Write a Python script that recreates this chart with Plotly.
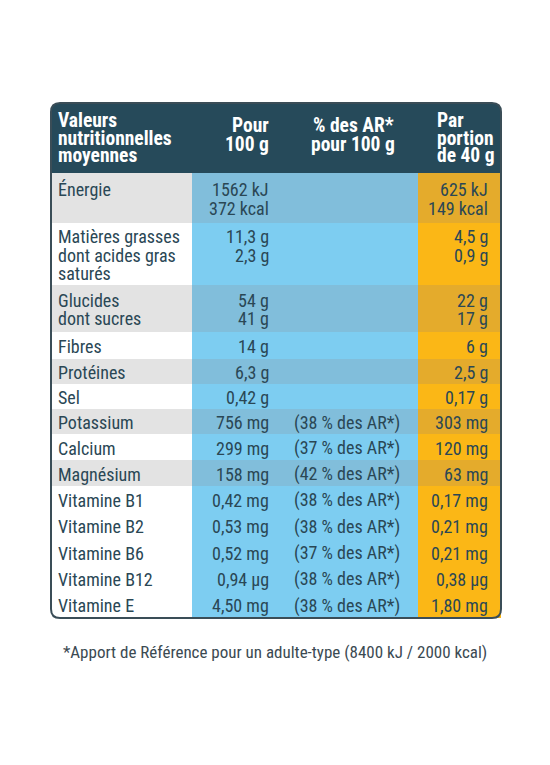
import numpy as np
import plotly.graph_objects as go

# table content
nutrients = ["Énergie", "Matières grasses\ndont acides gras\nsaturés", "Glucides\ndont sucres",
             "Fibres", "Protéines", "Sel", "Potassium", "Calcium", "Magnésium",
             "Vitamine B1", "Vitamine B2", "Vitamine B6", "Vitamine B12", "Vitamine E"]
per_100g = ["1562 kJ\n372 kcal", "11,3 g\n2,3 g", "54 g\n41 g", "14 g", "6,3 g", "0,42 g",
            "756 mg", "299 mg", "158 mg", "0,42 mg", "0,53 mg", "0,52 mg", "0,94 µg", "4,50 mg"]
ar_pct = [None, None, None, None, None, None, 38, 37, 42, 38, 38, 37, 38, 38]
per_portion = ["625 kJ\n149 kcal", "4,5 g\n0,9 g", "22 g\n17 g", "6 g", "2,5 g", "0,17 g",
               "303 mg", "120 mg", "63 mg", "0,17 mg", "0,21 mg", "0,21 mg", "0,38 µg", "1,80 mg"]
shaded = [True, False, True, False, True, False, True, False, True,
          False, False, False, False, False]

headers = ["Valeurs\nnutritionnelles\nmoyennes", "Pour\n100 g", "% des AR*\npour 100 g", "Par\nportion\nde 40 g"]
footnote = "*Apport de Référence pour un adulte-type (8400 kJ / 2000 kcal)"

# layout (pixel units, y grows downward); the page body adds an 8px offset
W, H = 550, 765
OFF = 8
LEFT, RIGHT = 51, 501
TOP, HEAD_BOTTOM = 103, 173
COL_EDGES = [LEFT, 192, 418, RIGHT]
row_heights = [50, 62, 47, 27, 25, 25, 25, 26, 26, 26.4, 26.4, 26.4, 26.4, 26.4]
LINE = 18.8
FONT = "Roboto Condensed, Liberation Sans Narrow, DejaVu Sans Condensed, sans-serif"
DARK = "#264a5a"
TEXT = "#2a4755"

row_tops = HEAD_BOTTOM + np.concatenate([[0], np.cumsum(row_heights)[:-1]])
row_mid = row_tops + np.array(row_heights) / 2
BOTTOM = HEAD_BOTTOM + sum(row_heights)

fig = go.Figure()

col_colors = [
    ["#e3e3e3" if s else "#ffffff" for s in shaded],
    ["#81bedb" if s else "#7dcdf1" for s in shaded],
    ["#e4ab2c" if s else "#fbb716" for s in shaded],
]
for c in range(3):
    fig.add_trace(go.Bar(
        orientation="h",
        y=row_mid,
        x=[COL_EDGES[c + 1] - COL_EDGES[c]] * len(nutrients),
        base=COL_EDGES[c],
        width=row_heights,
        marker=dict(color=col_colors[c], line=dict(width=0)),
        hoverinfo="skip",
        showlegend=False,
    ))


def rounded(x0, y0, x1, y1, r, top=True, bottom=True):
    rt = r if top else 0
    rb = r if bottom else 0
    return (f"M {x0 + rt},{y0} L {x1 - rt},{y0} Q {x1},{y0} {x1},{y0 + rt} "
            f"L {x1},{y1 - rb} Q {x1},{y1} {x1 - rb},{y1} L {x0 + rb},{y1} "
            f"Q {x0},{y1} {x0},{y1 - rb} L {x0},{y0 + rt} Q {x0},{y0} {x0 + rt},{y0} Z")


fig.add_shape(type="path", path=rounded(LEFT, TOP, RIGHT, HEAD_BOTTOM, 9, bottom=False),
              xref="x", yref="y", fillcolor=DARK, line=dict(width=0), layer="above")
fig.add_shape(type="path", path=rounded(LEFT, TOP, RIGHT, BOTTOM, 9),
              xref="x", yref="y", line=dict(color="#3a4d57", width=2), layer="above")


def add_lines(text, x, y_first, anchor, size=18, color=TEXT, bold=False, pitch=LINE):
    # lines stacked downward starting at y_first
    for i, ln in enumerate(text.split("\n")):
        fig.add_annotation(x=x, y=y_first + i * pitch, text=ln, xref="x", yref="y",
                           xanchor=anchor, yanchor="middle", showarrow=False, borderpad=0,
                           font=dict(family=FONT, size=size, color=color,
                                     weight=700 if bold else 400))


# header
head_mid = (TOP + HEAD_BOTTOM) / 2
add_lines(headers[0], 57, head_mid - 17.5, "left", size=19.5, color="white", bold=True, pitch=17.5)
add_lines(headers[1], 270, head_mid - 12.5, "right", size=19.5, color="white", bold=True, pitch=19)
add_lines(headers[2], 353, head_mid - 12.5, "center", size=19.5, color="white", bold=True, pitch=19)
add_lines(headers[3], 436, head_mid - 17.5, "left", size=19.5, color="white", bold=True, pitch=17.5)

# body: every cell of a row starts on the row's first text line
for i in range(len(nutrients)):
    n = max(t.count("\n") + 1 for t in (nutrients[i], per_100g[i], per_portion[i]))
    y_first = row_mid[i] + 1 - (n - 1) * LINE / 2
    add_lines(nutrients[i], 57, y_first, "left")
    add_lines(per_100g[i], 270, y_first, "right")
    if ar_pct[i] is not None:
        add_lines(f"({ar_pct[i]} % des AR*)", 347, y_first, "center")
    add_lines(per_portion[i], 489, y_first, "right")

fig.add_annotation(x=W / 2, y=652, text=footnote, xref="x", yref="y",
                   xanchor="center", yanchor="middle", showarrow=False,
                   font=dict(family=FONT, size=17, color="#3b4a52"))

fig.update_layout(
    width=W, height=H,
    margin=dict(l=0, r=0, t=0, b=0),
    paper_bgcolor="white", plot_bgcolor="white",
    barmode="overlay", bargap=0,
    xaxis=dict(range=[OFF, W + OFF], visible=False, fixedrange=True),
    yaxis=dict(range=[H + OFF, OFF], visible=False, fixedrange=True),
)

fig.write_html("out.html")
